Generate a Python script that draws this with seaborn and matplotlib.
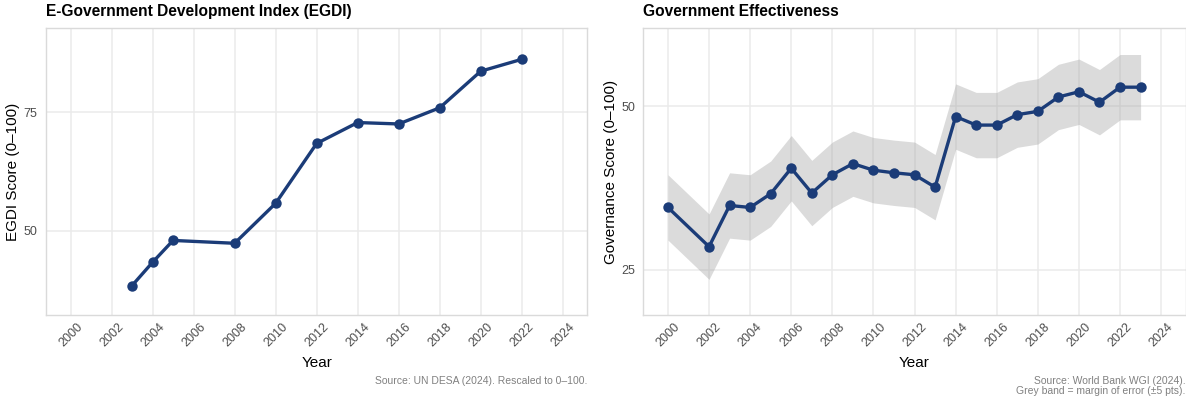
import matplotlib
matplotlib.use("Agg")
import matplotlib.pyplot as plt
import matplotlib.transforms as mtransforms
import seaborn as sns
import pandas as pd

# ---- data ----
egdi_years = [2003, 2004, 2005, 2008, 2010, 2012, 2014, 2016, 2018, 2020, 2022]
egdi_values = [38.5, 43.4, 48.0, 47.4, 55.8, 68.4, 72.8, 72.5, 75.9, 83.6, 86.1]

ge_years = [2000, 2002, 2003, 2004, 2005, 2006, 2007, 2008, 2009, 2010, 2011,
            2012, 2013, 2014, 2015, 2016, 2017, 2018, 2019, 2020, 2021, 2022, 2023]
ge_values = [34.5, 28.5, 34.8, 34.5, 36.6, 40.5, 36.7, 39.5, 41.2, 40.2, 39.8,
             39.5, 37.6, 48.4, 47.1, 47.1, 48.7, 49.2, 51.4, 52.2, 50.6, 52.9, 52.9]
ge_margin = 5  # +/- 5 pts

year_ticks = list(range(2000, 2025, 2))
y_ticks = [25, 50, 75]

titles = ["E-Government Development Index (EGDI)", "Government Effectiveness"]
ylabels = ["EGDI Score (0\u2013100)", "Governance Score (0\u2013100)"]
captions = ["Source: UN DESA (2024). Rescaled to 0\u2013100.",
            "Source: World Bank WGI (2024).\nGrey band = margin of error (\u00b15 pts)."]

# ---- style ----
sns.set_theme(style="white")
plt.rcParams['font.family'] = ['Liberation Sans', 'DejaVu Sans']

LINE = "#1B3C78"
GRID = "#EBEBEB"
BORDER = "#DADADA"
TICK = "#4D4D4D"

W, H = 1186, 399
fig = plt.figure(figsize=(W / 100, H / 100), dpi=100)

top, bottom = 27.7, 315.3
axL = fig.add_axes([45.9 / W, 1 - bottom / H, (587.4 - 45.9) / W, (bottom - top) / H])
axR = fig.add_axes([643.3 / W, 1 - bottom / H, 542.5 / W, (bottom - top) / H])

df_e = pd.DataFrame({"Year": egdi_years, "Score": egdi_values})
df_g = pd.DataFrame({"Year": ge_years, "Score": ge_values})
df_g["lo"] = df_g["Score"] - ge_margin
df_g["hi"] = df_g["Score"] + ge_margin

axR.fill_between(df_g["Year"], df_g["lo"], df_g["hi"], color="#999999",
                 alpha=0.35, linewidth=0, zorder=1)

for ax, df in [(axL, df_e), (axR, df_g)]:
    sns.lineplot(data=df, x="Year", y="Score", ax=ax, color=LINE, linewidth=2.4,
                 marker="o", markersize=7.5, markeredgewidth=0, zorder=3)

limits = [(35, 90), (20, 60)]
for i, ax in enumerate([axL, axR]):
    ax.set_xticks(year_ticks)
    ax.set_yticks(y_ticks)
    lo, hi = limits[i]
    pad = (hi - lo) * 0.05
    ax.set_ylim(lo - pad, hi + pad)
    ax.set_xlim(2000 - 1.2, 2024 + 1.2)
    ax.grid(True, color=GRID, linewidth=1.1, zorder=0)
    ax.set_axisbelow(True)
    for s in ax.spines.values():
        s.set_visible(True)
        s.set_color(BORDER)
        s.set_linewidth(1.0)
    ax.tick_params(axis="both", length=0, labelsize=9, labelcolor=TICK)
    ax.tick_params(axis="x", pad=4)
    ax.tick_params(axis="y", pad=6)
    offset = mtransforms.ScaledTranslation(6 / 100, 0, fig.dpi_scale_trans)
    for lab in ax.get_xticklabels():
        lab.set_rotation(45)
        lab.set_ha("right")
        lab.set_va("top")
        lab.set_rotation_mode("anchor")
        lab.set_transform(lab.get_transform() + offset)
    ax.set_xlabel("Year", fontsize=11, color="black")
    ax.xaxis.set_label_coords(0.5, -0.14)
    ax.set_ylabel(ylabels[i], fontsize=11, color="black")
    ax.yaxis.set_label_coords(-0.047, 0.5)
    ax.text(0.0, (bottom - 16) / (bottom - top), titles[i], transform=ax.transAxes,
            fontsize=11.2, fontweight="bold", ha="left", va="baseline", color="black")
    ax.text(1.0, (bottom - 375.5) / (bottom - top), captions[i], transform=ax.transAxes,
            fontsize=7.5, color="#808080", ha="right", va="top", linespacing=1.05)

fig.savefig("out.png", dpi=100, facecolor="white")
